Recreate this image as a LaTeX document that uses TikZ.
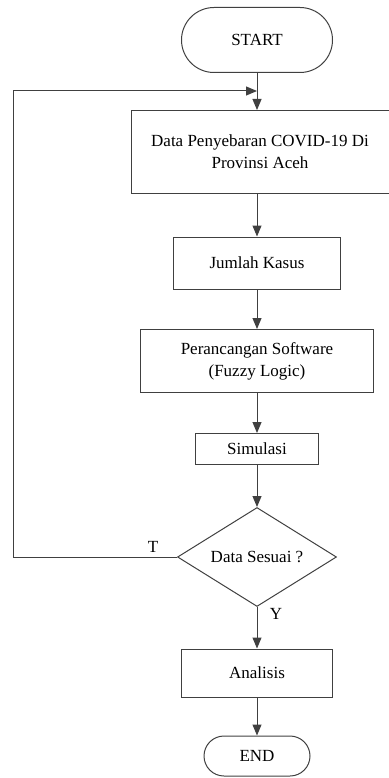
\documentclass[tikz,border=0pt]{standalone}
\usepackage{fontspec}
\setmainfont{Liberation Serif}
\usetikzlibrary{shapes.geometric,shapes.misc,arrows.meta}

\begin{document}
\begin{tikzpicture}[x=1pt,y=1pt]
\tikzstyle{every node}+=[inner sep=0pt, font=\fontsize{17}{22}\selectfont]
\tikzstyle{box}=[draw=black!75, line width=1pt, rectangle, align=center]
\tikzstyle{term}=[draw=black!75, line width=1pt, rounded rectangle]
\tikzstyle{cond}=[draw=black!75, line width=1pt, diamond, aspect=1.6]
\tikzstyle{flow}=[draw=black!75, line width=1pt, -{Triangle[length=11pt,width=9pt]}]
\useasboundingbox (0,0) rectangle (388,-778);
\node [term, minimum width=151, minimum height=65] (start) at (257,-40) {START};
\node [box, minimum width=258, minimum height=83] (data) at (260,-152) {Data Penyebaran COVID-19 Di\\Provinsi Aceh};
\node [box, minimum width=167, minimum height=52] (kasus) at (257,-263) {Jumlah Kasus};
\node [box, minimum width=233, minimum height=63] (software) at (257,-361) {Perancangan Software\\(Fuzzy Logic)};
\node [box, minimum width=123, minimum height=31] (simulasi) at (257,-449) {Simulasi};
\node [cond, minimum width=159, minimum height=99] (sesuai) at (257,-557) {Data Sesuai ?};
\node [box, minimum width=151, minimum height=48] (analisis) at (257,-673) {Analisis};
\node [term, minimum width=106, minimum height=40] (end) at (257,-756) {END};
\coordinate (join) at (257,-91);
\draw [flow] (start.south) -- (start.south |- data.north);
\draw [flow] (data.south -| kasus) -- (kasus);
\draw [flow] (kasus) -- (software);
\draw [flow] (software) -- (simulasi);
\draw [flow] (simulasi) -- (sesuai);
\draw [flow] (sesuai) -- (analisis);
\draw [flow] (analisis) -- (end);
\draw [flow] (sesuai.west) -- ++(-164,0) |- (join);
\node (tlab) at (153,-547) {T};
\node (ylab) at (276,-614) {Y};
\end{tikzpicture}
\end{document}
